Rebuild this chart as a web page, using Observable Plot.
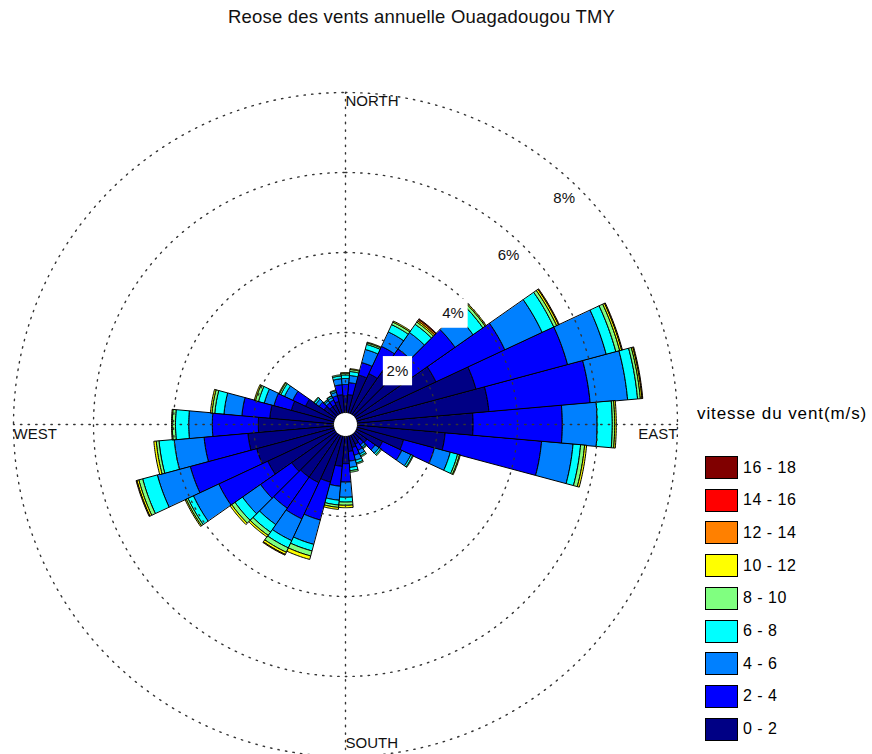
<!DOCTYPE html>
<html>
<head>
<meta charset="utf-8">
<script src="https://cdn.jsdelivr.net/npm/d3@7"></script>
<script src="https://cdn.jsdelivr.net/npm/@observablehq/plot@0.6"></script>
<style>
  body { margin: 0; background: #fff; font-family: "Liberation Sans", Arial, sans-serif; }
  #wrap { position: relative; width: 872px; height: 754px; overflow: hidden; }
  #chart { position: absolute; left: 0; top: 0; }
  #title { position: absolute; left: 0; width: 843px; top: 6px; text-align: center; font-size: 18.5px; letter-spacing: 0.2px; color: #111; }
  #legend { position: absolute; left: 697px; top: 404px; }
  #legend .lt { font-size: 17px; letter-spacing: 0.9px; white-space: nowrap; }
  #legend .row { position: absolute; left: 8px; height: 23px; display: flex; align-items: center; white-space: nowrap; }
  #legend .sw { width: 31px; height: 21px; border: 1px solid #000; margin-right: 5px; }
  #legend .lab { font-size: 16px; letter-spacing: 0.5px; }
</style>
</head>
<body>
<div id="wrap">
  <div id="chart"></div>
  <div id="title">Reose des vents annuelle Ouagadougou TMY</div>
  <div id="legend"></div>
</div>
<script>
// ---- Data -------------------------------------------------------------
const directions = [0,10,20,30,40,50,60,70,80,90,100,110,120,130,140,150,160,170,
                    180,190,200,210,220,230,240,250,260,270,280,290,300,310,320,330,340,350];
const speedBins = ["0 - 2","2 - 4","4 - 6","6 - 8","8 - 10","10 - 12","12 - 14","14 - 16","16 - 18"];
const binColors = ["#000085","#0000ff","#0080ff","#00ffff","#80ff80","#ffff00","#ff8000","#ff0000","#800000"];
// frequency (%) per direction for each speed bin
const f0_2   = [0.42,0.45,0.98,1.10,1.30,1.75,2.20,3.08,3.30,2.89,2.20,1.20,0.72,0.35,0.20,0.25,0.30,0.38,
                0.68,0.75,1.19,1.30,1.30,1.35,1.85,2.00,2.15,1.88,1.60,1.10,0.80,0.35,0.25,0.25,0.30,0.45];
const f2_4   = [0.28,0.30,0.32,0.75,0.70,1.30,1.90,2.37,2.54,2.23,2.42,0.80,0.53,0.25,0.13,0.17,0.20,0.24,
                0.46,0.50,0.98,1.00,0.95,0.95,1.35,1.72,1.10,1.15,0.70,0.45,0.35,0.15,0.12,0.13,0.15,0.25];
const f4_6   = [0.15,0.18,0.34,0.40,0.50,0.55,1.03,1.00,0.94,0.87,0.79,0.41,0.25,0.12,0.07,0.10,0.13,0.16,
                0.38,0.35,0.63,0.60,0.50,0.55,0.70,0.85,0.75,0.59,0.45,0.25,0.23,0.10,0.06,0.07,0.09,0.15];
const f6_8   = [0.09,0.10,0.13,0.20,0.25,0.30,0.32,0.25,0.25,0.38,0.19,0.19,0.05,0.05,0.03,0.05,0.07,0.08,
                0.12,0.12,0.17,0.20,0.23,0.23,0.15,0.38,0.38,0.33,0.23,0.15,0.10,0.05,0.03,0.04,0.04,0.07];
const f8_10  = [0.04,0.05,0.04,0.07,0.07,0.07,0.08,0.10,0.07,0.06,0.10,0.05,0.02,0.03,0.02,0.03,0.03,0.04,
                0.08,0.06,0.13,0.12,0.10,0.10,0.05,0.10,0.07,0.08,0.07,0.08,0.04,0.02,0.01,0.01,0.02,0.03];
const f10_12 = [0.02,0.02,0.02,0.03,0.04,0.03,0.05,0.05,0.04,0.04,0.05,0.02,0,0,0,0,0,0,
                0.06,0.05,0.09,0.06,0.05,0.05,0.03,0.05,0.06,0.02,0.04,0.03,0.02,0,0,0,0,0];
const f12_14 = [0,0,0,0,0.04,0,0.02,0.02,0.02,0,0,0,0,0,0,0,0,0,
                0,0,0,0.02,0,0,0,0.02,0,0,0,0,0,0,0,0,0,0];
const f14_16 = [0,0,0,0,0.02,0,0,0,0,0,0,0,0,0,0,0,0,0,
                0,0,0,0,0,0,0,0,0,0,0,0,0,0,0,0,0,0];
const f16_18 = [0,0,0,0,0,0,0,0,0,0,0,0,0,0,0,0,0,0,
                0,0,0,0,0,0,0,0,0,0,0,0,0,0,0,0,0,0];
const binSeries = [f0_2,f2_4,f4_6,f6_8,f8_10,f10_12,f12_14,f14_16,f16_18];
const ringTicks = [2,4,6,8];
const ringLabels = ["2%","4%","6%","8%"];
const compass = [{name:"NORTH", dir:0},{name:"EAST", dir:90},{name:"SOUTH", dir:180},{name:"WEST", dir:270}];

// ---- Geometry helpers (polar -> cartesian data units) ------------------
const W = 872, H = 754, cx = 345, cy = 424, pxPerUnit = 40;
const hole = 0.3;            // white hole in the centre (in % units)
const sectorWidth = 10;
const rMax = hole + d3.max(ringTicks);
const toXY = (deg, r) => { const a = deg * Math.PI / 180; return [r * Math.sin(a), r * Math.cos(a)]; };

// wedge polygons
const wedges = [];
directions.forEach((dir, i) => {
  let cum = 0;
  binSeries.forEach((arr, b) => {
    const v = arr[i];
    if (!v) return;
    const r0 = hole + cum, r1 = hole + cum + v;
    cum += v;
    const id = i + "-" + b, n = 16;
    const a0 = dir - sectorWidth / 2, a1 = dir + sectorWidth / 2;
    for (let k = 0; k <= n; k++) { const [x, y] = toXY(a0 + (a1 - a0) * k / n, r1); wedges.push({id, bin: speedBins[b], x, y}); }
    for (let k = n; k >= 0; k--) { const [x, y] = toXY(a0 + (a1 - a0) * k / n, r0); wedges.push({id, bin: speedBins[b], x, y}); }
  });
});

// grid rings
const rings = [];
ringTicks.forEach(t => { for (let k = 0; k <= 360; k++) { const [x, y] = toXY(k, hole + t); rings.push({t, x, y}); } });
// axes (N-S, E-W)
const axes = [];
compass.forEach(c => { [hole, rMax].forEach(r => { const [x, y] = toXY(c.dir, r); axes.push({dir: c.dir, x, y}); }); });
// ring labels
const labelAngle = 44;
const ringLab = ringTicks.map((t, i) => { const [x, y] = toXY(labelAngle, hole + t - 0.43); return {x, y, text: ringLabels[i]}; });
// compass labels
const compLab = compass.map(c => { const [x, y] = toXY(c.dir, rMax); return {x, y, text: c.name, dir: c.dir}; });

const dots = {stroke: "#333", strokeWidth: 1.4, strokeDasharray: "1.4,6.2"};
const chart = Plot.plot({
  width: W, height: H, margin: 0,
  x: {domain: [-cx / pxPerUnit, (W - cx) / pxPerUnit], axis: null},
  y: {domain: [-(H - cy) / pxPerUnit, cy / pxPerUnit], axis: null},
  color: {domain: speedBins, range: binColors},
  style: {fontFamily: "Liberation Sans, Arial, sans-serif", background: "white"},
  marks: [
    Plot.line(wedges, {x: "x", y: "y", z: "id", fill: "bin", stroke: "black", strokeWidth: 1, curve: "linear-closed", strokeLinejoin: "miter"}),
    Plot.line(rings, {x: "x", y: "y", z: "t", ...dots}),
    Plot.line(axes, {x: "x", y: "y", z: "dir", ...dots}),
    Plot.dot(ringLab.slice(0, 2), {x: "x", y: "y", symbol: "square", r: 16.5, fill: "white", stroke: "none"}),
    Plot.text(ringLab, {x: "x", y: "y", text: "text", fontSize: 15, fill: "#111"}),
    Plot.text(compLab.filter(d => d.dir === 0), {x: "x", y: "y", text: "text", textAnchor: "start", lineAnchor: "top", dy: 3, fontSize: 15, fill: "#111"}),
    Plot.text(compLab.filter(d => d.dir === 180), {x: "x", y: "y", text: "text", textAnchor: "start", lineAnchor: "middle", dy: -13, fontSize: 15, fill: "#111"}),
    Plot.text(compLab.filter(d => d.dir === 90), {x: "x", y: "y", text: "text", textAnchor: "end", lineAnchor: "top", dy: 4, fontSize: 15, fill: "#111"}),
    Plot.text(compLab.filter(d => d.dir === 270), {x: "x", y: "y", text: "text", textAnchor: "start", lineAnchor: "top", dy: 4, fontSize: 15, fill: "#111"})
  ]
});
document.getElementById("chart").appendChild(chart);

// legend (top = highest bin)
const leg = document.getElementById("legend");
const lt = document.createElement("div"); lt.className = "lt"; lt.textContent = "vitesse du vent(m/s)"; leg.appendChild(lt);
speedBins.slice().reverse().forEach((b, i) => {
  const row = document.createElement("div"); row.className = "row"; row.style.top = (52 + i * 32.7) + "px";
  const sw = document.createElement("div"); sw.className = "sw"; sw.style.background = binColors[speedBins.indexOf(b)];
  const lab = document.createElement("span"); lab.className = "lab"; lab.textContent = b;
  row.appendChild(sw); row.appendChild(lab); leg.appendChild(row);
});
</script>
</body>
</html>
